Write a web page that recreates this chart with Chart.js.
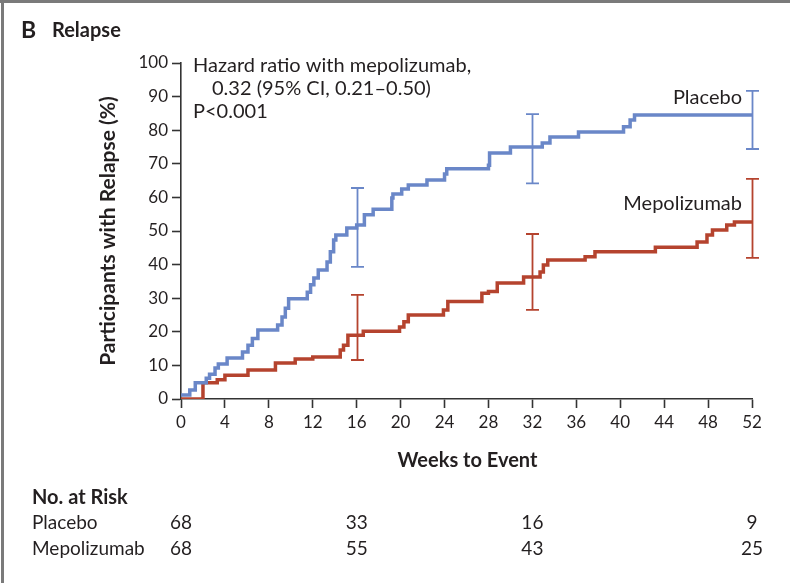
<!DOCTYPE html>
<html>
<head>
<meta charset="utf-8">
<script src="https://cdn.jsdelivr.net/npm/chart.js@4/dist/chart.umd.min.js"></script>
<style>
  body { margin: 0; background: #fff; }
  canvas { display: block; }
</style>
</head>
<body>
<canvas id="km" width="790" height="583"></canvas>
<script>
// Kaplan-Meier steps (week of event, cumulative % relapsed)
const placeboWeeks = [0, 0.8, 1.3, 2.3, 2.6, 3.1, 3.4, 4.2, 5.6, 6.1, 6.5, 7, 8.8, 9.2, 9.5, 9.8, 11.5, 11.8, 12.1, 12.5, 13.3, 13.6, 13.9, 14.1, 15.1, 16, 16.7, 17.5, 19.2, 19.3, 20.1, 20.7, 22.4, 24, 24.2, 28, 28.1, 30, 32.9, 33.6, 36.2, 40.3, 40.9, 41.3, 52];
const placeboPct = [1.2, 2.7, 4.8, 6.2, 7.4, 9.2, 10.4, 12.2, 14, 16, 18, 20.5, 22, 24.4, 27, 29.8, 31.8, 34, 36, 38.4, 40.8, 43.8, 47.3, 48.8, 50.9, 51.8, 54.8, 56.5, 59.8, 61, 62.5, 63.7, 65.2, 67, 68.5, 69.6, 73.2, 75, 76.2, 78, 79.5, 81, 83, 84.5, 84.5];

const mepoWeeks = [0, 2, 3.3, 4, 6.1, 8.6, 10.4, 12, 14.5, 14.8, 15.2, 16.6, 19.9, 20.3, 20.7, 23.9, 24.3, 27.4, 28, 28.8, 31.2, 32.7, 33, 33.4, 36.8, 37.7, 43.2, 47, 47.9, 48.4, 49.7, 50.4, 52];
const mepoPct = [0, 4.8, 5.7, 7.1, 8.6, 10.7, 11.9, 12.5, 14.6, 16, 19, 20.2, 21.4, 23, 25, 26.5, 29, 31.5, 32, 34.5, 36.3, 37.8, 39.9, 41.4, 42.3, 43.8, 45.2, 46.7, 48.8, 50.3, 51.8, 52.7, 52.7];

// 95% CI bars
const ciWeeks = [16, 32, 52];
const placeboLow = [39.3, 64.2, 74.4];
const placeboHigh = [62.8, 84.8, 91.7];
const mepoLow = [11.6, 26.5, 42];
const mepoHigh = [31, 49.1, 65.5];

// numbers at risk
const riskWeeks = [0, 16, 32, 52];
const riskPlacebo = [68, 33, 16, 9];
const riskMepo = [68, 55, 43, 25];

const xTicks = { min: 0, max: 52, step: 4 };
const yTicks = { min: 0, max: 100, step: 10 };

const blue = "rgb(106,135,200)";
const red = "rgb(181,67,46)";
const ink = "#231f20";
const fontName = "Lato";

const toPoints = (xs, ys) => xs.map((x, i) => ({ x: x, y: ys[i] }));

const extras = {
    id: "extras",
    beforeDraw(chart) {
        const ctx = chart.ctx;
        ctx.save();
        ctx.fillStyle = "#7a7a7a";
        ctx.fillRect(0, 0, chart.width, 3);
        ctx.fillRect(1, 0, 3, chart.height);
        ctx.restore();
    },
    afterDraw(chart) {
        const ctx = chart.ctx;
        const xs = chart.scales.x;
        const ys = chart.scales.y;
        ctx.save();

        // error bars
        const bars = (lo, hi, color) => {
            ctx.strokeStyle = color;
            ctx.lineWidth = 1.8;
            ciWeeks.forEach((w, i) => {
                const px = Math.round(xs.getPixelForValue(w)) + 0.5;
                const y1 = ys.getPixelForValue(lo[i]);
                const y2 = ys.getPixelForValue(hi[i]);
                ctx.beginPath();
                ctx.moveTo(px, y1); ctx.lineTo(px, y2);
                ctx.moveTo(px - 6.5, y1); ctx.lineTo(px + 6.5, y1);
                ctx.moveTo(px - 6.5, y2); ctx.lineTo(px + 6.5, y2);
                ctx.stroke();
            });
        };
        bars(placeboLow, placeboHigh, blue);
        bars(mepoLow, mepoHigh, red);

        ctx.fillStyle = ink;
        ctx.textBaseline = "alphabetic";

        // panel title
        ctx.textAlign = "left";
        ctx.font = "bold 23px " + fontName;
        ctx.fillText("B", 21, 38);
        ctx.font = "bold 20px " + fontName;
        ctx.fillText("Relapse", 52, 37);

        // hazard ratio note
        ctx.font = "20px " + fontName;
        ctx.fillText("Hazard ratio with mepolizumab,", 193, 72);
        ctx.fillText("0.32 (95% CI, 0.21\u20130.50)", 212, 95);
        ctx.fillText("P<0.001", 193, 118);

        // curve labels
        ctx.textAlign = "right";
        ctx.fillText("Placebo", xs.getPixelForValue(52) - 10, 104);
        ctx.fillText("Mepolizumab", xs.getPixelForValue(52) - 10, 210);

        // axis titles
        ctx.font = "bold 20px " + fontName;
        ctx.textAlign = "center";
        ctx.fillText("Weeks to Event", (xs.left + xs.right) / 2 + 1, 467);
        ctx.save();
        ctx.font = "bold 21px " + fontName;
        ctx.translate(115, (ys.top + ys.bottom) / 2);
        ctx.rotate(-Math.PI / 2);
        ctx.fillText("Participants with Relapse (%)", 0, 0);
        ctx.restore();

        // no. at risk
        ctx.textAlign = "left";
        ctx.font = "bold 20px " + fontName;
        ctx.fillText("No. at Risk", 32, 504);
        ctx.font = "19px " + fontName;
        ctx.fillText("Placebo", 32, 529);
        ctx.fillText("Mepolizumab", 32, 555);
        ctx.textAlign = "center";
        riskWeeks.forEach((w, i) => {
            const px = xs.getPixelForValue(w);
            ctx.fillText(String(riskPlacebo[i]), px, 529);
            ctx.fillText(String(riskMepo[i]), px, 555);
        });
        ctx.restore();
    }
};

const axisStyle = {
    border: { display: true, color: "#333", width: 1.6 },
    grid: { display: true, drawOnChartArea: false, drawTicks: true, tickLength: 9, tickColor: "#333", tickWidth: 1.6 }
};

new Chart(document.getElementById("km"), {
    type: "line",
    data: {
        datasets: [
            { label: "Placebo", data: toPoints(placeboWeeks, placeboPct), borderColor: blue, borderWidth: 3.5, stepped: "before", pointRadius: 0, fill: false },
            { label: "Mepolizumab", data: toPoints(mepoWeeks, mepoPct), borderColor: red, borderWidth: 3.5, stepped: "before", pointRadius: 0, fill: false }
        ]
    },
    options: {
        responsive: false,
        animation: false,
        devicePixelRatio: 1,
        layout: { padding: { top: 63, right: 38, left: 0, bottom: 0 } },
        plugins: { legend: { display: false }, tooltip: { enabled: false } },
        scales: {
            x: {
                type: "linear", min: xTicks.min, max: xTicks.max,
                ticks: { stepSize: xTicks.step, color: ink, font: { family: fontName, size: 17 }, padding: 4, maxRotation: 0 },
                border: axisStyle.border, grid: axisStyle.grid,
                afterFit: (s) => { s.height = 184; }
            },
            y: {
                type: "linear", min: yTicks.min, max: yTicks.max,
                ticks: { stepSize: yTicks.step, color: ink, font: { family: fontName, size: 17 }, padding: 4 },
                border: axisStyle.border, grid: axisStyle.grid,
                afterFit: (s) => { s.width = 181; }
            }
        }
    },
    plugins: [extras]
});
</script>
</body>
</html>
